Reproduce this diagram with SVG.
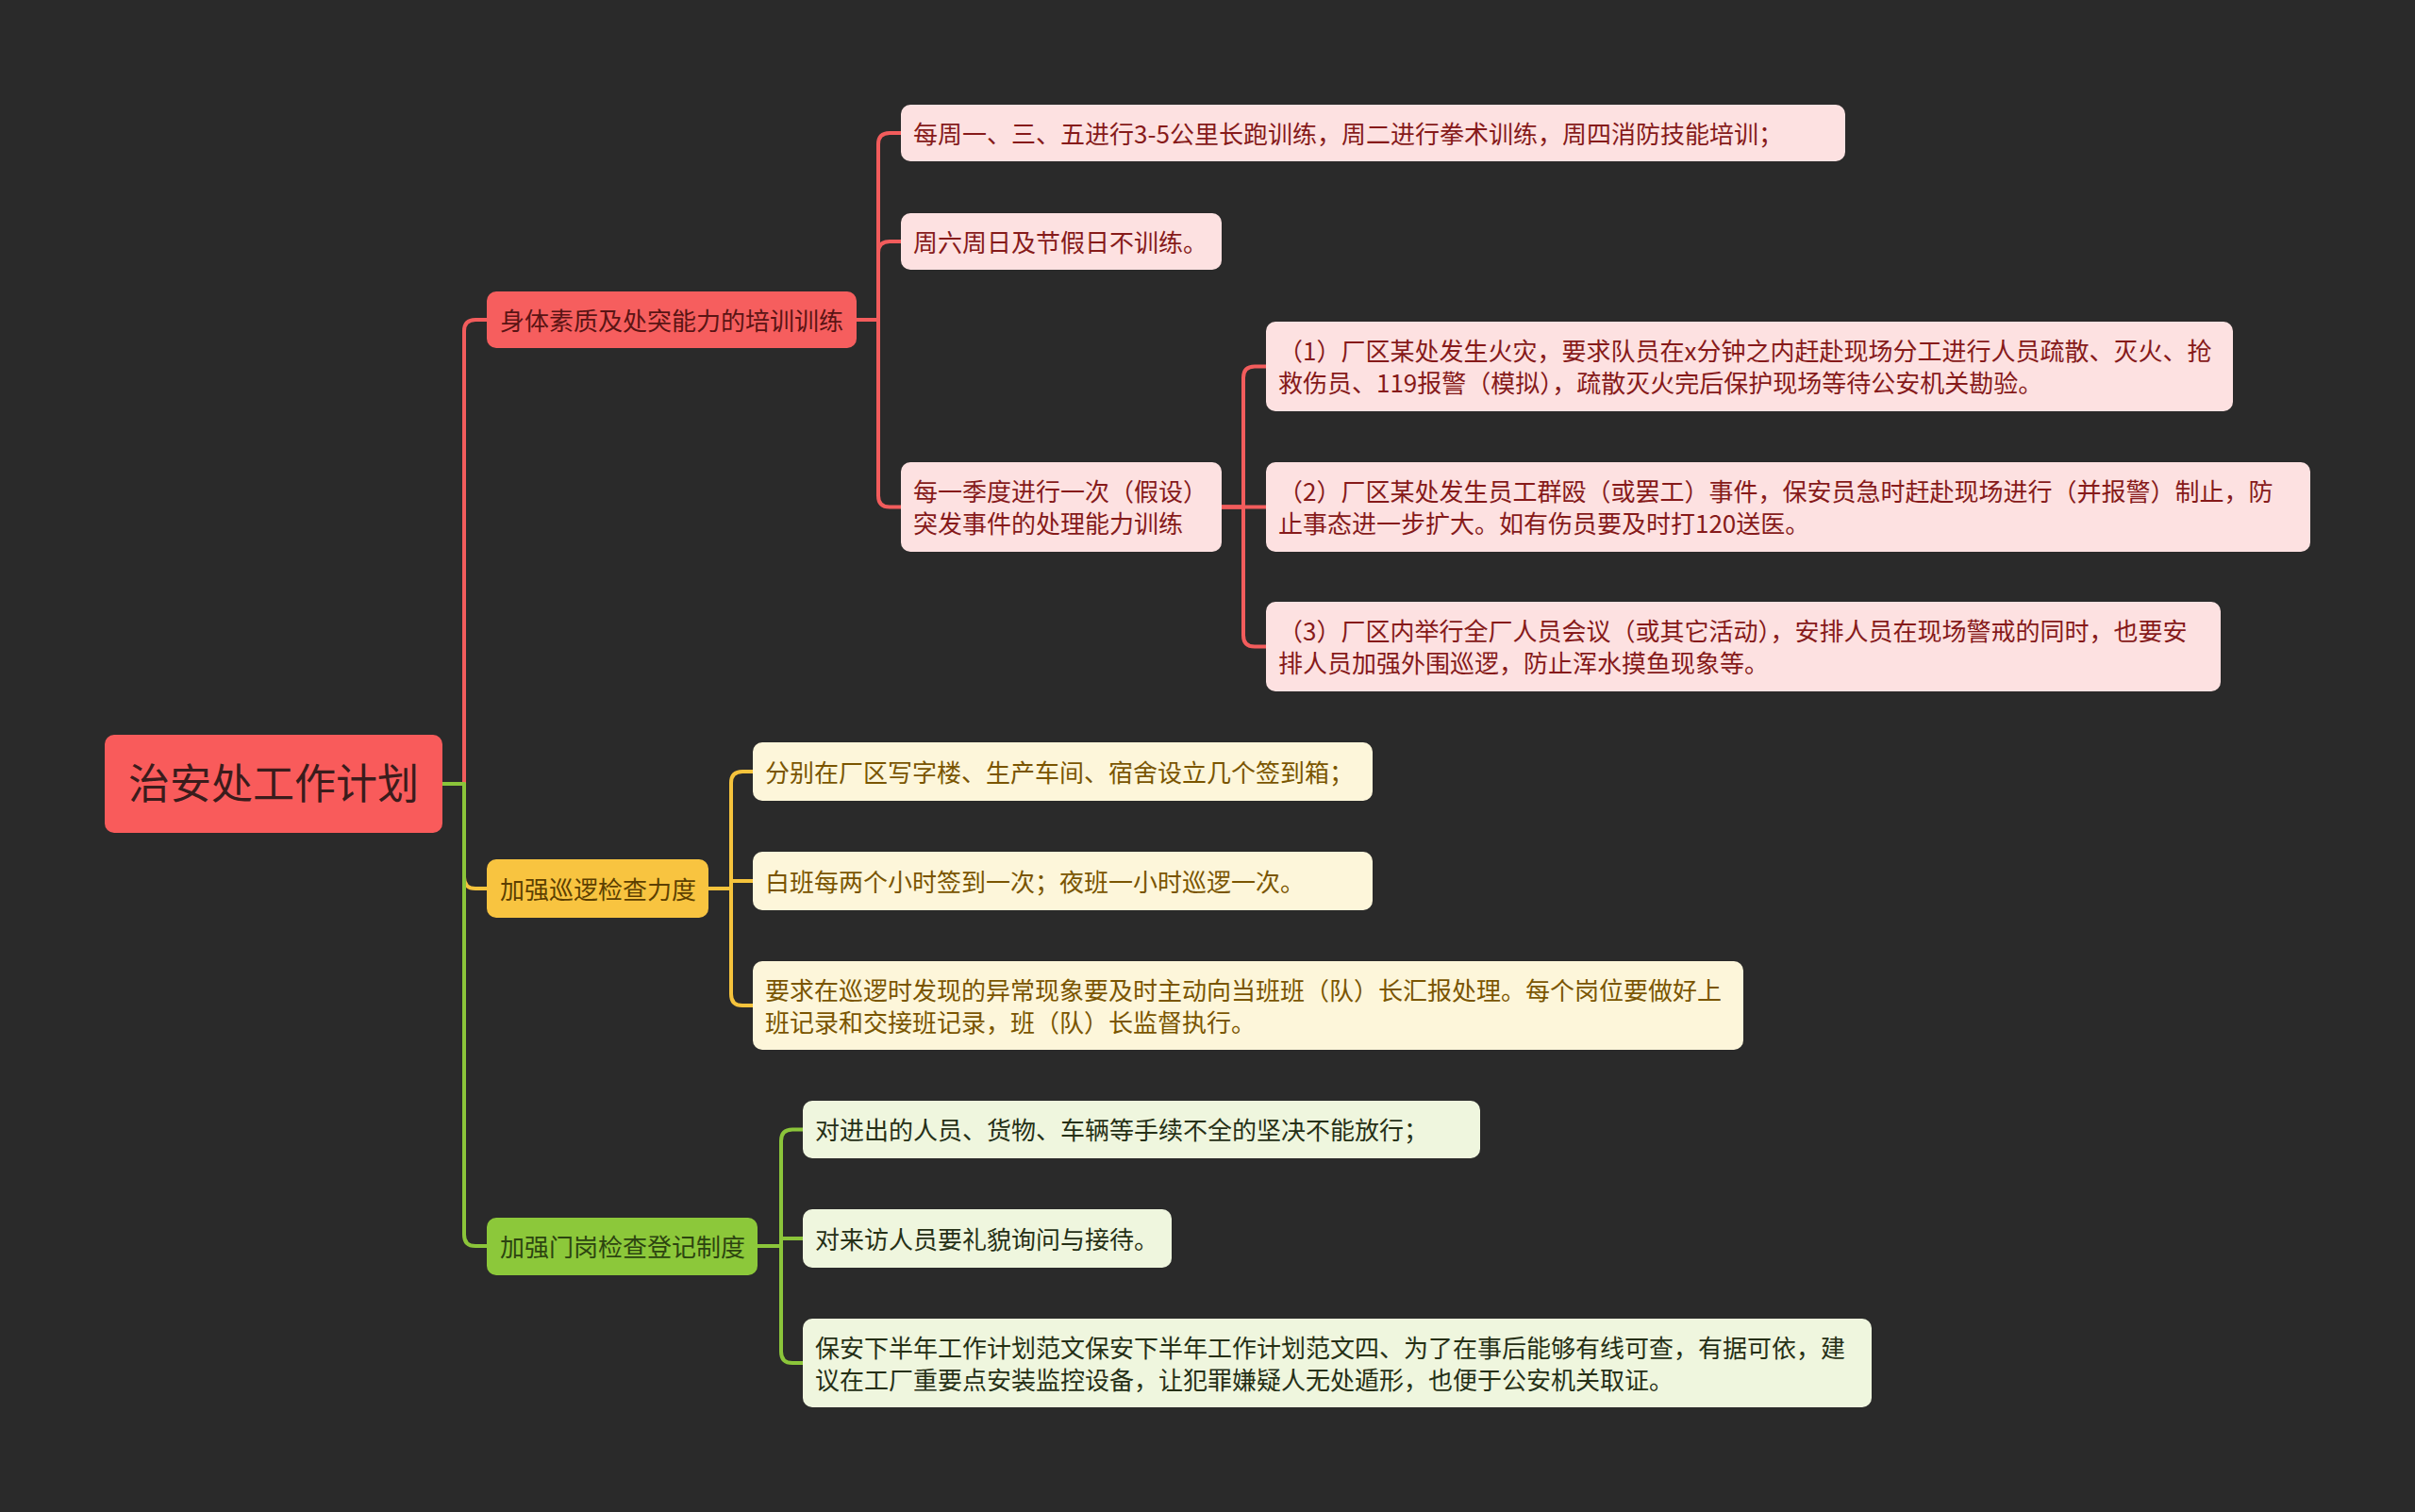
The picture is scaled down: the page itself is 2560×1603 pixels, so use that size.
<svg xmlns="http://www.w3.org/2000/svg" width="2560" height="1603" viewBox="0 0 2560 1603">
<style>
text{font-family:"Noto Sans CJK SC","Noto Sans",sans-serif;font-size:26px}
.c{fill:none;stroke-width:4;stroke-linecap:round;stroke-linejoin:round}
.r{stroke:#f25c5c}.y{stroke:#f5c33c}.g{stroke:#8bc53a}
.root rect{fill:#f95b5b}.root text{font-size:44px;fill:#3a1c1c}
.b1 rect{fill:#f65e5e}.b1 text{fill:#5a1414}
.b2 rect{fill:#f8c440}.b2 text{fill:#5c3f00}
.b3 rect{fill:#8cc83a}.b3 text{fill:#2c4410}
.pr rect{fill:#fde1e1}.pr text{fill:#861a1a}
.py rect{fill:#fdf6da}.py text{fill:#7a5500}
.pg rect{fill:#eff6de}.pg text{fill:#263016}
</style>
<rect width="2560" height="1603" fill="#2a2a2a"/>
<g id="connectors">
<path class="c r" d="M469,831 H492 V351 Q492,339 504,339 H516"/>
<path class="c y" d="M469,831 H492 V930 Q492,942 504,942 H516"/>
<path class="c g" d="M469,831 H492 V1309 Q492,1321 504,1321 H516"/>
<path class="c r" d="M908,339 H931 V153 Q931,141 943,141 H955"/>
<path class="c r" d="M908,339 H931 V268 Q931,256 943,256 H955"/>
<path class="c r" d="M908,339 H931 V525.5 Q931,537.5 943,537.5 H955"/>
<path class="c r" d="M1295,537.5 H1318 V400.5 Q1318,388.5 1330,388.5 H1342"/>
<path class="c r" d="M1295,537.5 H1342"/>
<path class="c r" d="M1295,537.5 H1318 V673.5 Q1318,685.5 1330,685.5 H1342"/>
<path class="c y" d="M751,942 H775 V830 Q775,818 787,818 H798"/>
<path class="c y" d="M751,942 H775 V934 H798"/>
<path class="c y" d="M751,942 H775 V1054 Q775,1066 787,1066 H798"/>
<path class="c g" d="M803,1321 H828 V1209.5 Q828,1197.5 840,1197.5 H851"/>
<path class="c g" d="M803,1321 H828 V1313 H851"/>
<path class="c g" d="M803,1321 H828 V1433 Q828,1445 840,1445 H851"/>
</g>
<g id="root" class="root"><rect x="111" y="779" width="358" height="104" rx="10"/><text x="290" y="847" text-anchor="middle">治安处工作计划</text></g>
<g id="b1" class="b1"><rect x="516" y="309" width="392" height="60" rx="10"/><text x="530" y="350">身体素质及处突能力的培训训练</text></g>
<g id="b2" class="b2"><rect x="516" y="911" width="235" height="62" rx="10"/><text x="530" y="953">加强巡逻检查力度</text></g>
<g id="b3" class="b3"><rect x="516" y="1291" width="287" height="61" rx="10"/><text x="530" y="1332">加强门岗检查登记制度</text></g>
<g id="c1" class="pr"><rect x="955" y="111" width="1001" height="60" rx="10"/><text x="968" y="152">每周一、三、五进行3-5公里长跑训练，周二进行拳术训练，周四消防技能培训；</text></g>
<g id="c2" class="pr"><rect x="955" y="226" width="340" height="60" rx="10"/><text x="968" y="267">周六周日及节假日不训练。</text></g>
<g id="c3" class="pr"><rect x="955" y="490" width="340" height="95" rx="10"/><text x="968" y="531">每一季度进行一次（假设）</text><text x="968" y="565">突发事件的处理能力训练</text></g>
<g id="g1" class="pr"><rect x="1342" y="341" width="1025" height="95" rx="10"/><text x="1355" y="382">（1）厂区某处发生火灾，要求队员在x分钟之内赶赴现场分工进行人员疏散、灭火、抢</text><text x="1355" y="416">救伤员、119报警（模拟），疏散灭火完后保护现场等待公安机关勘验。</text></g>
<g id="g2" class="pr"><rect x="1342" y="490" width="1107" height="95" rx="10"/><text x="1355" y="531">（2）厂区某处发生员工群殴（或罢工）事件，保安员急时赶赴现场进行（并报警）制止，防</text><text x="1355" y="565">止事态进一步扩大。如有伤员要及时打120送医。</text></g>
<g id="g3" class="pr"><rect x="1342" y="638" width="1012" height="95" rx="10"/><text x="1355" y="679">（3）厂区内举行全厂人员会议（或其它活动），安排人员在现场警戒的同时，也要安</text><text x="1355" y="713">排人员加强外围巡逻，防止浑水摸鱼现象等。</text></g>
<g id="y1" class="py"><rect x="798" y="787" width="657" height="62" rx="10"/><text x="811" y="829">分别在厂区写字楼、生产车间、宿舍设立几个签到箱；</text></g>
<g id="y2" class="py"><rect x="798" y="903" width="657" height="62" rx="10"/><text x="811" y="945">白班每两个小时签到一次；夜班一小时巡逻一次。</text></g>
<g id="y3" class="py"><rect x="798" y="1019" width="1050" height="94" rx="10"/><text x="811" y="1060">要求在巡逻时发现的异常现象要及时主动向当班班（队）长汇报处理。每个岗位要做好上</text><text x="811" y="1094">班记录和交接班记录，班（队）长监督执行。</text></g>
<g id="gr1" class="pg"><rect x="851" y="1167" width="718" height="61" rx="10"/><text x="864" y="1208">对进出的人员、货物、车辆等手续不全的坚决不能放行；</text></g>
<g id="gr2" class="pg"><rect x="851" y="1282" width="391" height="62" rx="10"/><text x="864" y="1324">对来访人员要礼貌询问与接待。</text></g>
<g id="gr3" class="pg"><rect x="851" y="1398" width="1133" height="94" rx="10"/><text x="864" y="1439">保安下半年工作计划范文保安下半年工作计划范文四、为了在事后能够有线可查，有据可依，建</text><text x="864" y="1473">议在工厂重要点安装监控设备，让犯罪嫌疑人无处遁形，也便于公安机关取证。</text></g>
</svg>
